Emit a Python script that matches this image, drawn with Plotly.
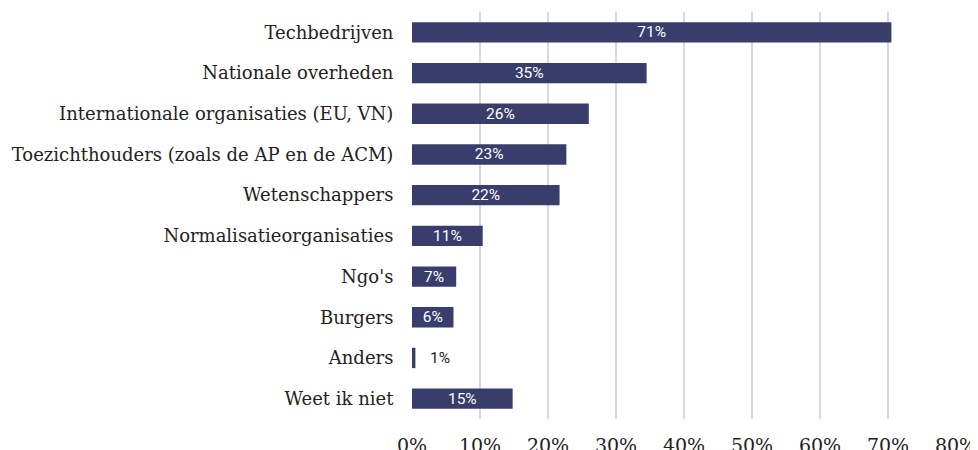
import plotly.graph_objects as go

categories = ["Techbedrijven", "Nationale overheden", "Internationale organisaties (EU, VN)",
              "Toezichthouders (zoals de AP en de ACM)", "Wetenschappers",
              "Normalisatieorganisaties", "Ngo's", "Burgers", "Anders", "Weet ik niet"]
values = [70.5, 34.5, 26.0, 22.7, 21.7, 10.4, 6.5, 6.1, 0.5, 14.8]
labels = ["71%", "35%", "26%", "23%", "22%", "11%", "7%", "6%", "1%", "15%"]
tick_vals = [0, 10, 20, 30, 40, 50, 60, 70, 80]
tick_text = ["0%", "10%", "20%", "30%", "40%", "50%", "60%", "70%", "80%"]

bar_color = "#383d6b"
small = [v < 3 for v in values]
text_pos = ["outside" if s else "inside" for s in small]
text_col = ["#222222" if s else "white" for s in small]
# outside labels sit a bit further from the bar end
bar_text = [("\u00a0" * 3 + t) if s else t for t, s in zip(labels, small)]

fig = go.Figure(go.Bar(
    y=categories, x=values, orientation="h",
    marker=dict(color=bar_color, line=dict(width=0)),
    text=bar_text, textposition=text_pos, insidetextanchor="middle",
    constraintext="none",
    textfont=dict(family="Roboto", size=15.5, color=text_col),
    cliponaxis=False,
))

# the page puts the figure 8px in from the top-left corner
fig.update_layout(
    width=978, height=450,
    margin=dict(l=404, r=30, t=4, b=39),
    paper_bgcolor="white", plot_bgcolor="white",
    bargap=0.5, showlegend=False,
)
fig.update_xaxes(range=[0, 80], tickvals=tick_vals, ticktext=tick_text,
                 showgrid=True, gridcolor="#d9d9d9", gridwidth=1.5,
                 zeroline=False, showline=False, automargin=False,
                 ticks="outside", ticklen=9, tickcolor="rgba(0,0,0,0)",
                 tickfont=dict(family="DejaVu Serif", size=19, color="#222222"))
fig.update_yaxes(autorange="reversed", showgrid=False, showline=False, automargin=False,
                 ticks="outside", ticklen=14, tickcolor="rgba(0,0,0,0)",
                 tickfont=dict(family="DejaVu Serif", size=18, color="#222222"))

fig.write_html("out.html")
